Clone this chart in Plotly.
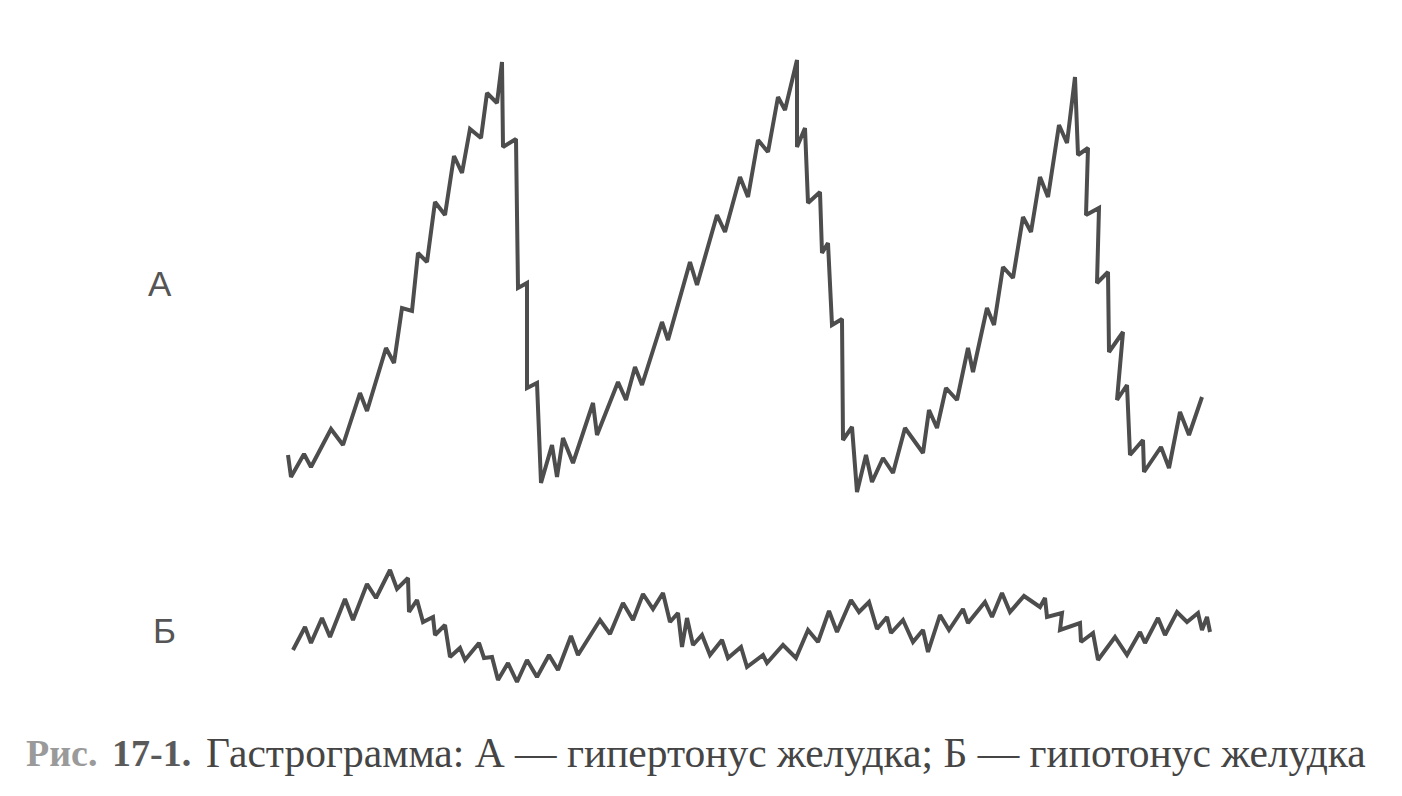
import plotly.graph_objects as go

# Trace A (hypertonus) - positions (x, y in picture units, y grows downward)
xa = [288, 291, 304, 311, 331, 343, 360, 367, 386, 394, 402, 412, 418, 427, 435, 445, 454, 462, 470, 481,
      487, 497, 502, 503, 516, 518, 527, 527, 537, 541, 552, 557, 563, 573, 593, 597, 618, 626, 635, 642,
      662, 668, 690, 697, 717, 725, 740, 748, 758, 768, 778, 785, 797, 797, 805, 808, 820, 822, 828, 832,
      842, 843, 852, 857, 866, 872, 883, 893, 905, 923, 929, 937, 946, 957, 968, 973, 987, 994, 1003, 1013,
      1023, 1031, 1040, 1048, 1059, 1067, 1075, 1078, 1088, 1086, 1099, 1097, 1108, 1109, 1123, 1117, 1127,
      1130, 1143, 1144, 1161, 1169, 1180, 1189, 1202]
ya = [455, 477, 454, 467, 429, 445, 393, 411, 348, 363, 308, 311, 253, 262, 202, 215, 156, 173, 129, 138,
      93, 103, 62, 147, 139, 288, 283, 388, 383, 483, 445, 477, 438, 463, 403, 435, 382, 400, 367, 385,
      322, 340, 262, 285, 215, 232, 177, 197, 140, 152, 97, 110, 60, 147, 128, 203, 192, 253, 243, 325,
      319, 440, 427, 492, 455, 482, 458, 473, 428, 453, 410, 428, 388, 400, 348, 372, 308, 325, 267, 278,
      217, 232, 177, 197, 125, 143, 77, 155, 148, 215, 208, 283, 272, 352, 332, 400, 385,
      455, 440, 472, 447, 468, 412, 435, 397]

# Trace B (hypotonus)
xb = [293, 305, 311, 322, 330, 345, 353, 367, 376, 390, 397, 408, 409, 417, 423, 433, 435, 445, 450, 460,
      465, 479, 484, 492, 498, 508, 517, 527, 537, 549, 558, 571, 578, 600, 610, 623, 633, 643, 653, 663,
      670, 678, 682, 687, 693, 702, 710, 722, 728, 741, 747, 763, 767, 783, 796, 808, 818, 829, 837, 851,
      859, 869, 877, 887, 891, 903, 913, 923, 928, 940, 949, 963, 968, 985, 992, 1002, 1010, 1024, 1040,
      1045, 1047, 1062, 1060, 1080, 1081, 1093, 1098, 1115, 1127, 1140, 1145, 1158, 1165, 1177, 1187,
      1198, 1202, 1207, 1210]
yb = [650, 627, 643, 618, 637, 599, 620, 584, 598, 570, 589, 578, 612, 600, 622, 617, 635, 625, 657, 648,
      660, 643, 658, 657, 680, 663, 682, 660, 677, 655, 670, 636, 655, 620, 634, 603, 620, 594, 609, 593,
      622, 613, 647, 618, 645, 635, 655, 640, 658, 647, 667, 655, 663, 645, 658, 630, 642, 611, 632, 600,
      612, 602, 629, 617, 633, 620, 642, 630, 652, 615, 630, 609, 623, 602, 617, 593, 612, 596, 607,
      598, 617, 613, 630, 623, 642, 633, 660, 637, 655, 632, 643, 618, 635, 612, 622,
      613, 630, 617, 632]

label_a = "А"
label_b = "Б"
caption_fig = "Рис."
caption_num = "17-1."
caption_text = "Гастрограмма: А — гипертонус желудка; Б — гипотонус желудка"

line_color = "#4d4d4d"

fig = go.Figure()
fig.add_trace(go.Scatter(x=xa, y=ya, mode="lines", line=dict(color=line_color, width=4),
                         hoverinfo="skip", name=label_a))
fig.add_trace(go.Scatter(x=xb, y=yb, mode="lines", line=dict(color=line_color, width=4),
                         hoverinfo="skip", name=label_b))

fig.add_annotation(x=160, y=283, text=label_a, showarrow=False,
                   font=dict(family="Liberation Sans, Arial", size=35, color="#555555"))
fig.add_annotation(x=164, y=630, text=label_b, showarrow=False,
                   font=dict(family="Liberation Sans, Arial", size=35, color="#555555"))

serif = "Liberation Serif, Times New Roman"
fig.add_annotation(x=24, y=753, xanchor="left", yanchor="middle", showarrow=False,
                   text=f"<b>{caption_fig}</b>",
                   font=dict(family=serif, size=38, color="#9a9a9a"))
fig.add_annotation(x=110, y=753, xanchor="left", yanchor="middle", showarrow=False,
                   text=f"<b>{caption_num}</b>",
                   font=dict(family=serif, size=38, color="#5a5a5a"))
fig.add_annotation(x=204, y=753, xanchor="left", yanchor="middle", showarrow=False,
                   text=caption_text,
                   font=dict(family=serif, size=41.5, color="#454545"))

# page body has an 8px margin; shift ranges so picture units land on page pixels
fig.update_layout(
    width=1402, height=796,
    margin=dict(l=0, r=0, t=0, b=0),
    paper_bgcolor="white", plot_bgcolor="white",
    showlegend=False,
    xaxis=dict(range=[8, 1410], visible=False, fixedrange=True),
    yaxis=dict(range=[804, 8], visible=False, fixedrange=True),
)

fig.write_html("out.html")
